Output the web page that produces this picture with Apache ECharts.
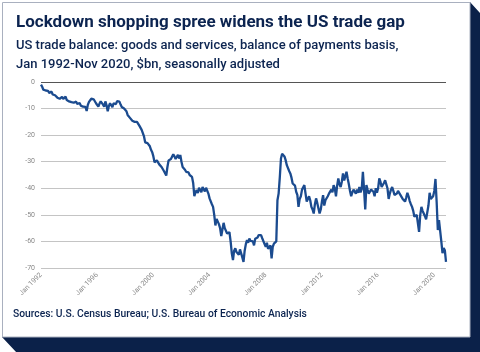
<!DOCTYPE html>
<html>
<head>
<meta charset="utf-8">
<script src="https://cdn.jsdelivr.net/npm/echarts@6/dist/echarts.min.js"></script>
<style>
html, body { margin: 0; padding: 0; background: #fff; }
#main { width: 480px; height: 352px; }
</style>
</head>
<body>
<div id="main"></div>
<script>
// US trade balance, $bn, monthly, Jan 1992 - Nov 2020
var startYear = 1992;
var monthNames = ['Jan', 'Feb', 'Mar', 'Apr', 'May', 'Jun', 'Jul', 'Aug', 'Sep', 'Oct', 'Nov', 'Dec'];

var y1992 = [-1.0, -1.8, -2.9, -2.4, -3.2, -3.8, -3.3, -4.1, -4.4, -3.6, -4.7, -4.2];
var y1993 = [-5.0, -4.6, -5.9, -5.2, -6.3, -6.5, -5.6, -6.4, -6.1, -5.5, -6.8, -6.2];
var y1994 = [-7.3, -6.6, -7.6, -7.1, -7.8, -8.0, -7.4, -8.3, -8.6, -7.9, -8.9, -8.5];
var y1995 = [-9.3, -9.9, -9.4, -10.9, -8.6, -7.5, -7.3, -6.3, -6.9, -6.5, -7.2, -8.0];
var y1996 = [-8.0, -9.3, -8.1, -7.3, -7.3, -8.5, -9.3, -7.3, -8.8, -11.0, -9.0, -8.0];
var y1997 = [-8.6, -9.5, -8.0, -7.6, -8.3, -7.2, -6.6, -7.4, -8.5, -9.4, -9.0, -10.0];
var y1998 = [-10.2, -11.0, -12.4, -12.0, -13.5, -13.9, -14.6, -14.2, -15.0, -14.7, -15.0, -15.4];
var y1999 = [-16.4, -16.2, -18.0, -18.5, -20.5, -22.7, -23.3, -23.0, -23.3, -24.2, -25.5, -26.4];
var y2000 = [-28.0, -30.2, -29.8, -29.5, -29.5, -31.0, -31.2, -32.0, -32.7, -33.5, -33.0, -35.2];
var y2001 = [-32.0, -29.5, -29.0, -29.0, -28.5, -27.2, -28.0, -29.0, -28.5, -27.4, -28.8, -27.5];
var y2002 = [-30.0, -32.0, -31.5, -33.0, -33.8, -33.2, -34.0, -35.0, -34.5, -35.7, -38.0, -43.0];
var y2003 = [-41.5, -40.7, -41.8, -39.8, -40.0, -41.5, -39.5, -40.0, -41.2, -39.8, -40.5, -42.0];
var y2004 = [-43.8, -44.5, -46.0, -47.0, -50.0, -54.0, -51.5, -52.0, -53.5, -55.0, -58.0, -55.5];
var y2005 = [-53.0, -55.0, -54.5, -57.0, -57.6, -56.5, -60.0, -64.5, -67.0, -63.5, -62.6, -64.0];
var y2006 = [-63.5, -65.0, -63.0, -64.5, -66.0, -67.7, -63.5, -61.0, -59.5, -60.5, -58.9, -59.8];
var y2007 = [-60.5, -60.0, -61.5, -59.0, -59.5, -58.5, -57.6, -58.0, -57.6, -58.8, -59.5, -61.0];
var y2008 = [-62.0, -60.5, -62.8, -63.3, -61.5, -66.4, -62.0, -60.8, -61.0, -60.0, -44.5, -42.0];
var y2009 = [-36.0, -28.8, -27.0, -26.3, -28.0, -29.4, -31.3, -32.0, -33.5, -34.4, -36.0, -38.2];
var y2010 = [-37.5, -39.0, -41.3, -42.5, -47.0, -44.0, -43.0, -40.5, -41.0, -38.8, -42.0, -45.0];
var y2011 = [-44.0, -43.0, -44.5, -47.0, -48.0, -49.5, -46.0, -43.8, -45.5, -47.5, -49.5, -48.0];
var y2012 = [-45.0, -42.6, -46.5, -44.5, -44.5, -43.0, -42.0, -42.0, -40.5, -41.5, -38.8, -40.0];
var y2013 = [-43.0, -39.0, -36.3, -38.5, -39.5, -37.5, -34.4, -37.0, -35.5, -33.8, -36.3, -38.5];
var y2014 = [-41.0, -43.0, -41.5, -40.5, -40.0, -42.0, -40.5, -41.7, -39.5, -41.5, -40.3, -33.8];
var y2015 = [-40.5, -48.0, -38.8, -40.5, -42.0, -42.6, -40.5, -41.0, -41.3, -43.0, -40.0, -41.7];
var y2016 = [-40.0, -36.3, -37.5, -39.5, -40.0, -38.0, -37.0, -36.3, -40.0, -44.0, -42.0, -40.5];
var y2017 = [-39.5, -41.0, -42.5, -43.0, -42.0, -41.0, -41.7, -42.5, -43.0, -44.0, -44.5, -45.0];
var y2018 = [-43.5, -41.7, -43.0, -44.8, -46.0, -47.0, -48.5, -50.7, -51.0, -50.0, -49.5, -56.4];
var y2019 = [-50.0, -47.0, -48.5, -49.5, -50.5, -51.7, -51.0, -46.5, -41.7, -44.0, -43.5, -43.0];
var y2020 = [-41.0, -36.5, -45.0, -55.7, -52.0, -51.5, -60.0, -64.4, -62.5, -63.3, -67.7];

var yearly = [y1992, y1993, y1994, y1995, y1996, y1997, y1998, y1999, y2000, y2001,
    y2002, y2003, y2004, y2005, y2006, y2007, y2008, y2009, y2010, y2011,
    y2012, y2013, y2014, y2015, y2016, y2017, y2018, y2019, y2020];

var categories = [];
var balance = [];
yearly.forEach(function (vals, k) {
    vals.forEach(function (v, m) {
        categories.push(monthNames[m] + ' ' + (startYear + k));
        balance.push(v);
    });
});

var navy = '#0c2450';

var myChart = echarts.init(document.getElementById('main'));
var option = {
    backgroundColor: '#fff',
    animation: false,
    title: {
        left: 11,
        top: 9,
        itemGap: 5,
        text: 'Lockdown shopping spree widens the US trade gap',
        textStyle: {
            fontFamily: 'Roboto',
            fontSize: 17,
            fontWeight: 'bold',
            color: navy
        },
        subtext: 'US trade balance: goods and services, balance of payments basis,\nJan 1992-Nov 2020, $bn, seasonally adjusted',
        subtextStyle: {
            fontFamily: 'Roboto',
            fontSize: 13,
            fontWeight: 500,
            lineHeight: 19,
            color: navy
        }
    },
    graphic: [{
        type: 'polygon',
        z: -10,
        shape: { points: [[470, 2], [481, 14], [481, 353], [17, 353], [2, 337], [470, 337]] },
        style: { fill: '#0b2149' }
    }, {
        type: 'rect',
        z: -9,
        shape: { x: 2.5, y: 2.5, width: 467.5, height: 334.5 },
        style: { fill: '#fff', stroke: '#a9b0bf', lineWidth: 1 }
    }, {
        type: 'text',
        left: 13,
        top: 309,
        style: {
            text: 'Sources: U.S. Census Bureau; U.S. Bureau of Economic Analysis',
            fontFamily: 'Roboto',
            fontSize: 10.3,
            fontWeight: 500,
            fill: navy
        }
    }],
    grid: {
        left: 41,
        right: 34,
        top: 82,
        bottom: 84
    },
    xAxis: {
        type: 'category',
        boundaryGap: false,
        data: categories,
        axisLine: { show: false },
        axisTick: { show: false },
        axisLabel: {
            interval: 47,
            rotate: 45,
            fontFamily: 'Roboto',
            fontSize: 7,
            color: '#888',
            margin: 6
        },
        splitLine: { show: false }
    },
    yAxis: {
        type: 'value',
        min: -70,
        max: 0,
        interval: 10,
        axisLine: { show: false },
        axisTick: { show: false },
        axisLabel: {
            fontFamily: 'Roboto',
            fontSize: 7,
            color: '#888',
            margin: 6
        },
        splitLine: {
            lineStyle: {
                color: ['#c4c4c4', '#c4c4c4', '#c4c4c4', '#c4c4c4', '#c4c4c4', '#c4c4c4', '#c4c4c4', '#555'],
                width: 1.2
            }
        }
    },
    series: [{
        name: 'US trade balance',
        type: 'line',
        data: balance,
        symbol: 'none',
        lineStyle: { color: '#1b4b8f', width: 2.3 }
    }]
};
myChart.setOption(option);

window.onresize = function () {
    myChart.resize();
};
</script>
</body>
</html>
